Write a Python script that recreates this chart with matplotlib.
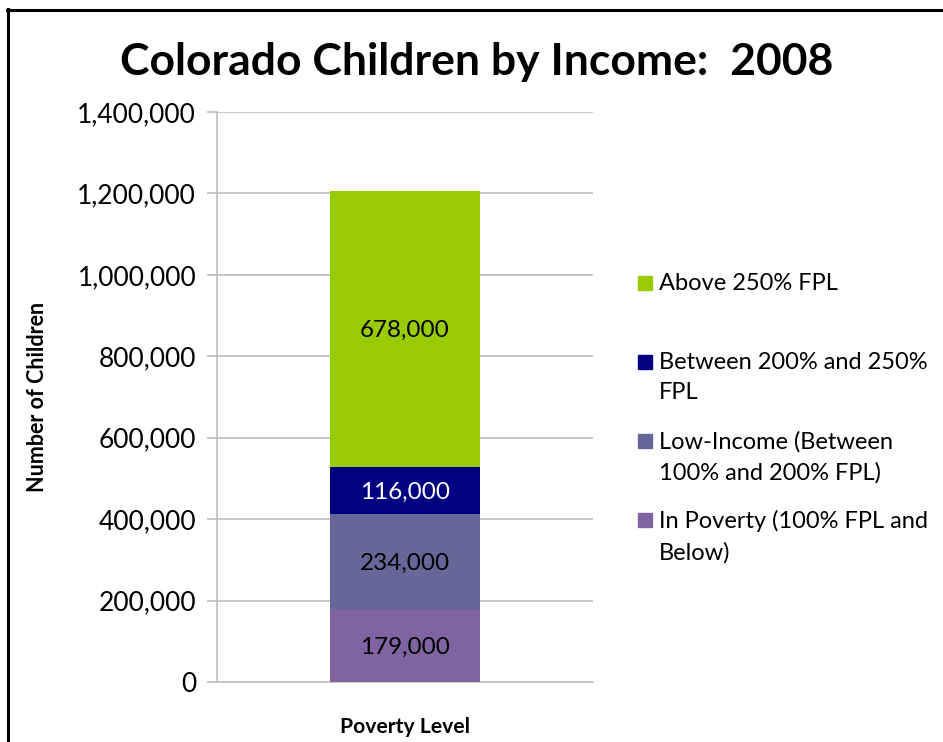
import matplotlib
matplotlib.use("Agg")
import matplotlib.pyplot as plt
from matplotlib.lines import Line2D
from matplotlib.patches import Rectangle

plt.rcParams['font.family'] = ['Lato', 'DejaVu Sans']

categories = ["Poverty Level"]
series_names = ["In Poverty (100% FPL and\nBelow)",
                "Low-Income (Between\n100% and 200% FPL)",
                "Between 200% and 250%\nFPL",
                "Above 250% FPL"]
series_values = [179000, 234000, 116000, 678000]
series_colors = ["#8064A2", "#666699", "#000080", "#99CC00"]
label_colors = ["black", "black", "white", "black"]
yticks = [0, 200000, 400000, 600000, 800000, 1000000, 1200000, 1400000]

W, H = 943, 742
fig = plt.figure(figsize=(W / 100, H / 100), dpi=100)
ax = fig.add_axes([217 / W, 1 - 682 / H, (593 - 217) / W, (682 - 112) / H])

grid_c = "#BFBFBF"
bottom = 0
for name, val, col, lc in zip(series_names, series_values, series_colors, label_colors):
    ax.bar(0, val, width=0.4, bottom=bottom, color=col, zorder=3)
    ax.text(0, bottom + val / 2, f"{val:,}", ha="center", va="center_baseline",
            color=lc, fontsize=17.5, zorder=4)
    bottom += val

ax.set_xlim(-0.5, 0.5)
ax.set_ylim(0, 1400000)
ax.set_yticks(yticks)
ax.set_yticklabels([f"{v:,}" for v in yticks], fontsize=19)
ax.set_xticks([])
ax.yaxis.grid(True, color=grid_c, linewidth=1.2, zorder=0)
for s in ["top", "right"]:
    ax.spines[s].set_visible(False)
ax.spines["left"].set_color(grid_c)
ax.spines["bottom"].set_color(grid_c)
ax.spines["left"].set_linewidth(1.2)
ax.spines["bottom"].set_linewidth(1.2)
ax.tick_params(axis="y", length=7, color=grid_c, width=1.2, pad=8)
ax.set_xlabel(categories[0], fontsize=15.2, fontweight="bold", labelpad=25)
ax.set_ylabel("Number of Children", fontsize=15.5, fontweight="bold")
ax.yaxis.set_label_coords(-0.45, 0.5)

fig.text(477 / W, 1 - 62 / H, "Colorado Children by Income:  2008",
         ha="center", va="center", fontsize=32, fontweight="bold")

# legend (manual, top entry first)
ys = [283, 362, 441, 520]
for y, name, col in zip(ys, series_names[::-1], series_colors[::-1]):
    fig.patches.append(Rectangle((638 / W, 1 - (y + 7) / H), 14 / W, 14 / H,
                                 transform=fig.transFigure, color=col, figure=fig))
    fig.text(659 / W, 1 - (y - 10) / H, name, ha="left", va="top",
             fontsize=17, linespacing=1.55)

# slide frame
fig.lines.append(Line2D([8 / W, 8 / W], [0, 1 - 9 / H], transform=fig.transFigure,
                        color="black", linewidth=2.2))
fig.lines.append(Line2D([7 / W, 1], [1 - 10 / H, 1 - 10 / H], transform=fig.transFigure,
                        color="black", linewidth=2.2))

fig.savefig("out.png", dpi=100)
